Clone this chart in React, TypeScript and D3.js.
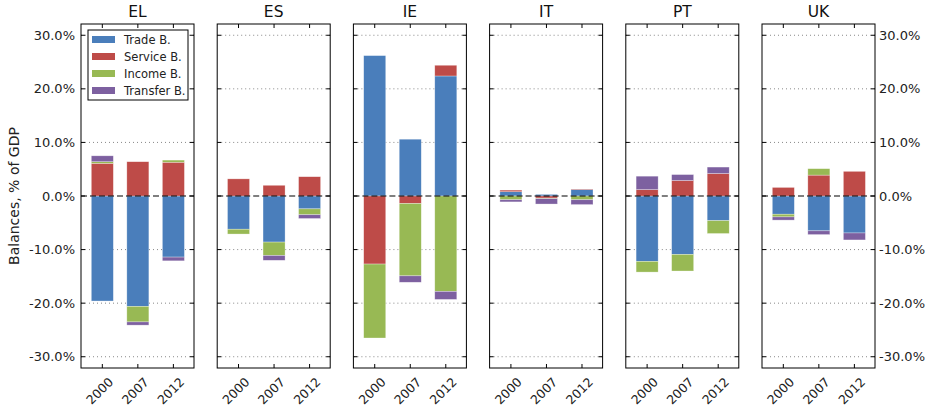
import React from "react";
import * as d3 from "d3";

const countries = ["EL", "ES", "IE", "IT", "PT", "UK"];
const years = ["2000", "2007", "2012"];
const seriesNames = ["Trade B.", "Service B.", "Income B.", "Transfer B."];
const colors = ["#4a7ebb", "#be4b48", "#98b954", "#7d60a0"];
// values per country: [year][trade, service, income, transfer]
const EL = [[-19.6, 6.1, 0.3, 1.1], [-20.6, 6.4, -2.9, -0.6], [-11.4, 6.3, 0.4, -0.7]];
const ES = [[-6.2, 3.2, -0.9, 0], [-8.6, 2.0, -2.5, -0.9], [-2.4, 3.6, -1.1, -0.7]];
const IE = [[26.2, -12.7, -13.8, 0], [10.6, -1.4, -13.5, -1.2], [22.4, 2.0, -17.8, -1.5]];
const IT = [[0.8, 0.3, -0.7, -0.4], [0.3, -0.4, -0.1, -1.0], [1.2, 0.1, -0.7, -0.9]];
const PT = [[-12.2, 1.2, -2.0, 2.5], [-10.9, 2.9, -3.1, 1.1], [-4.6, 4.2, -2.4, 1.2]];
const UK = [[-3.4, 1.6, -0.5, -0.6], [-6.5, 3.9, 1.2, -0.7], [-6.9, 4.6, 0, -1.3]];
const data = [EL, ES, IE, IT, PT, UK];
const yTicks = [-30, -20, -10, 0, 10, 20, 30];

const W = 927, H = 410;
const top = 24, bottom = 368;
const panelW = 113, panelStep = 136.2, left0 = 81;

export default function App() {
  const y = d3.scaleLinear().domain([-32.1, 32.1]).range([bottom, top]);
  const x = d3.scaleLinear().domain([-0.6, 2.58]).range([0, panelW]);
  const bw = x(0.62) - x(0);
  const font = "DejaVu Sans, sans-serif";
  return (
    <svg width={W} height={H} style={{ position: "absolute", left: 0, top: 0 }} fontFamily={font}>
      <rect width={W} height={H} fill="#fff" />
      {countries.map((c, ci) => {
        const px = left0 + ci * panelStep;
        const rects: any[] = [];
        data[ci].forEach((vals, yi) => {
          let pos = 0, neg = 0;
          vals.forEach((v, si) => {
            let y0, y1;
            if (v >= 0) { y0 = pos; y1 = pos + v; pos = y1; }
            else { y0 = neg; y1 = neg + v; neg = y1; }
            if (v === 0) return;
            rects.push(
              <rect key={yi + "-" + si} x={x(yi) - bw / 2} width={bw}
                y={y(Math.max(y0, y1))} height={Math.abs(y(y0) - y(y1))}
                fill={colors[si]} stroke="#fff" strokeOpacity={0.5} strokeWidth={0.6} />
            );
          });
        });
        return (
          <g key={c} transform={`translate(${px},0)`}>
            {yTicks.filter(t => t !== 0).map(t => (
              <line key={t} x1={0} x2={panelW} y1={y(t)} y2={y(t)} stroke="#888" strokeDasharray="1,3" strokeWidth={1} />
            ))}
            {rects}
            <line x1={0} x2={panelW} y1={y(0)} y2={y(0)} stroke="#000" strokeDasharray="6,3" strokeWidth={1.2} />
            {yTicks.map(t => (
              <g key={"t" + t}>
                <line x1={0} x2={4} y1={y(t)} y2={y(t)} stroke="#000" />
                <line x1={panelW - 4} x2={panelW} y1={y(t)} y2={y(t)} stroke="#000" />
              </g>
            ))}
            {years.map((yr, yi) => (
              <g key={yr}>
                <line x1={x(yi)} x2={x(yi)} y1={top} y2={top + 4} stroke="#000" />
                <line x1={x(yi)} x2={x(yi)} y1={bottom - 4} y2={bottom} stroke="#000" />
                <text transform={`translate(${x(yi) + 5},${bottom + 8}) rotate(-45)`} textAnchor="end"
                  dominantBaseline="hanging" fontSize={12.5} fill="#222">{yr}</text>
              </g>
            ))}
            <rect x={0} y={top} width={panelW} height={bottom - top} fill="none" stroke="#000" strokeWidth={1} />
            <text x={panelW / 2} y={17} textAnchor="middle" fontSize={15.5} fill="#111">{c}</text>
            {ci === 0 && yTicks.map(t => (
              <text key={"l" + t} x={-6} y={y(t)} dy="0.35em" textAnchor="end" fontSize={13} fill="#222">{t.toFixed(1)}%</text>
            ))}
            {ci === 5 && yTicks.map(t => (
              <text key={"r" + t} x={panelW + 4} y={y(t)} dy="0.35em" textAnchor="start" fontSize={13} fill="#222">{t.toFixed(1)}%</text>
            ))}
            {ci === 0 && (
              <g>
                <rect x={7} y={30} width={100} height={70} fill="#fff" stroke="#000" />
                {seriesNames.map((s, si) => (
                  <g key={s}>
                    <rect x={11} y={36 + si * 17} width={23} height={7} fill={colors[si]} />
                    <text x={43} y={39.5 + si * 17} dy="0.35em" fontSize={11.5} fill="#222">{s}</text>
                  </g>
                ))}
              </g>
            )}
          </g>
        );
      })}
      <text transform={`translate(19,${(top + bottom) / 2}) rotate(-90)`} textAnchor="middle" fontSize={14} fill="#222">Balances, % of GDP</text>
    </svg>
  );
}
